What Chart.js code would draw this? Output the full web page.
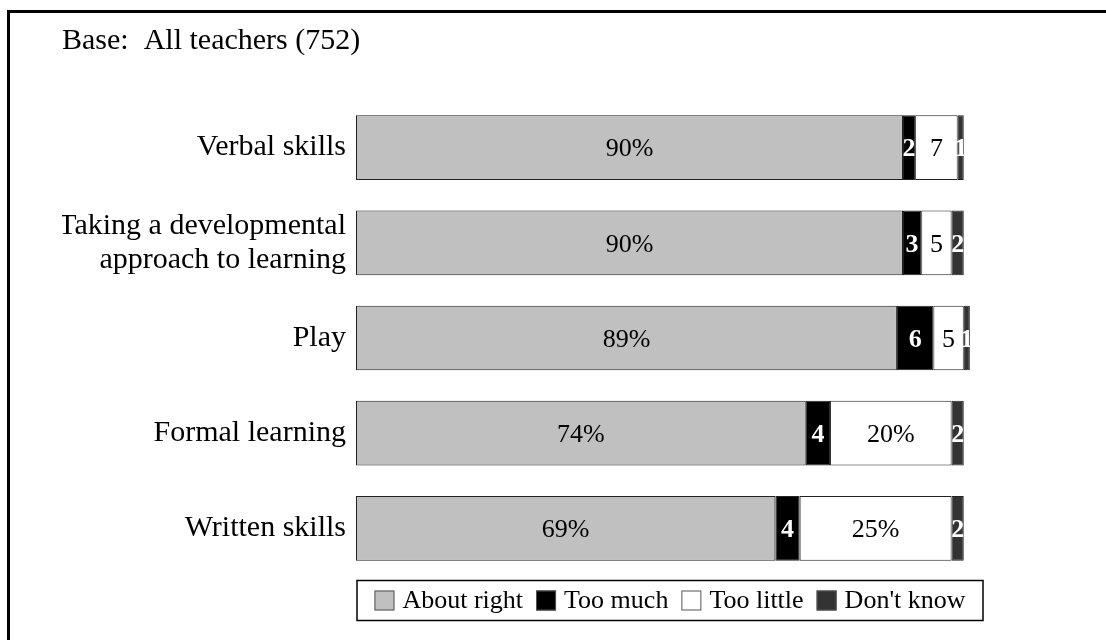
<!DOCTYPE html>
<html>
<head>
<meta charset="utf-8">
<script src="https://cdn.jsdelivr.net/npm/chart.js@4.4.1/dist/chart.umd.min.js"></script>
<style>
body { margin: 0; background: #fff; overflow: hidden; }
#moldura { position: absolute; left: 7px; top: 10px; width: 1200px; height: 800px; border: 3px solid #000; }
#area { position: absolute; left: 0; top: 0; }
</style>
</head>
<body>
<div id="moldura"></div>
<div id="area"><canvas id="grafico" width="1106" height="640"></canvas></div>
<script>
const categorias = ['Verbal skills', ['Taking a developmental', 'approach to learning'], 'Play', 'Formal learning', 'Written skills'];
const aboutRight = [90, 90, 89, 74, 69];
const tooMuch = [2, 3, 6, 4, 4];
const tooLittle = [7, 5, 5, 20, 25];
const dontKnow = [1, 2, 1, 2, 2];

const fonte = '"Liberation Serif", "Times New Roman", serif';

// numeros dentro de cada segmento
const rotulos = {
    id: 'rotulos',
    afterDatasetsDraw(chart) {
        const ctx = chart.ctx;
        chart.data.datasets.forEach((ds, i) => {
            const meta = chart.getDatasetMeta(i);
            meta.data.forEach((barra, j) => {
                let v = ds.data[j];
                let txt = v >= 10 ? v + '%' : String(v);
                ctx.save();
                ctx.font = (ds.negrito ? 'bold ' : '') + '26px ' + fonte;
                ctx.fillStyle = ds.corTexto;
                ctx.textAlign = 'center';
                ctx.textBaseline = 'middle';
                ctx.fillText(txt, (barra.x + barra.base) / 2, barra.y + 2);
                ctx.restore();
            });
        });
    }
};

// legenda com caixa em volta, abaixo das barras
const legenda = {
    id: 'legenda',
    afterDraw(chart) {
        const ctx = chart.ctx;
        const area = chart.chartArea;
        const x0 = area.left + 1, x1 = area.right + 1;
        const y0 = area.bottom + 4.5, y1 = area.bottom + 44.5;
        ctx.save();
        ctx.strokeStyle = '#000';
        ctx.lineWidth = 1.5;
        ctx.strokeRect(x0, y0, x1 - x0, y1 - y0);

        ctx.font = '26px ' + fonte;
        const caixa = 20, gap = 8, entre = 13;
        const larguras = chart.data.datasets.map(d => ctx.measureText(d.label).width);
        const total = larguras.reduce((a, b) => a + b, 0) + 4 * (caixa + gap) + 3 * entre;
        let x = (x0 + x1) / 2 - total / 2;
        const cy = (y0 + y1) / 2;
        chart.data.datasets.forEach((d, i) => {
            ctx.fillStyle = d.backgroundColor;
            ctx.fillRect(x, cy - caixa / 2, caixa, caixa);
            ctx.strokeStyle = '#555';
            ctx.lineWidth = 1;
            ctx.strokeRect(x + 0.5, cy - caixa / 2 + 0.5, caixa - 1, caixa - 1);
            x += caixa + gap;
            ctx.fillStyle = '#000';
            ctx.textAlign = 'left';
            ctx.textBaseline = 'middle';
            ctx.fillText(d.label, x, cy + 1);
            x += larguras[i] + entre;
        });
        ctx.restore();
    }
};

function serie(nome, valores, cor, corTexto, negrito) {
    return {
        label: nome,
        data: valores,
        backgroundColor: cor,
        borderColor: '#222',
        borderWidth: 1,
        borderSkipped: false,
        barPercentage: 0.68,
        categoryPercentage: 1,
        corTexto: corTexto,
        negrito: negrito
    };
}

const ctx = document.getElementById('grafico');
const myChart = new Chart(ctx, {
    type: 'bar',
    data: {
        labels: categorias,
        datasets: [
            serie('About right', aboutRight, '#c0c0c0', '#000', false),
            serie('Too much', tooMuch, '#000000', '#fff', true),
            serie('Too little', tooLittle, '#ffffff', '#000', false),
            serie("Don't know", dontKnow, '#333333', '#fff', true)
        ]
    },
    options: {
        indexAxis: 'y',
        responsive: false,
        animation: false,
        layout: { padding: { left: 62, right: 124, top: 0, bottom: 64 } },
        scales: {
            x: { stacked: true, min: 0, max: 103, display: false },
            y: {
                stacked: true,
                grid: { display: false, drawTicks: false },
                border: { display: false },
                ticks: {
                    color: '#000',
                    padding: 10,
                    font: { family: fonte, size: 30, lineHeight: 1.13 }
                },
                afterFit(scale) { scale.width = 294; }
            }
        },
        plugins: {
            legend: { display: false },
            tooltip: { enabled: false },
            title: {
                display: true,
                text: 'Base:  All teachers (752)',
                align: 'start',
                color: '#000',
                font: { family: fonte, size: 30, weight: 'normal' },
                padding: { top: 23, bottom: 41 }
            }
        }
    },
    plugins: [rotulos, legenda]
});
</script>
</body>
</html>
